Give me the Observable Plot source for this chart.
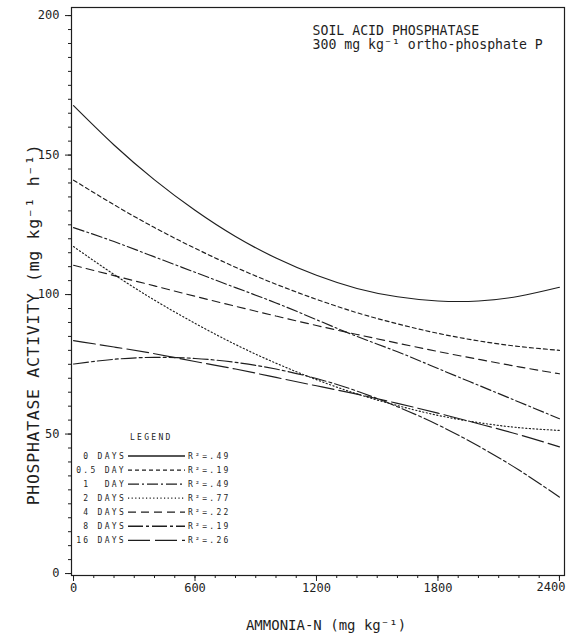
<!DOCTYPE html>
<html><head><meta charset="utf-8">
<script src="https://cdn.jsdelivr.net/npm/d3@7"></script>
<script src="https://cdn.jsdelivr.net/npm/@observablehq/plot@0.6"></script>
<style>
body{margin:0;background:#fff}
#chart{width:569px;height:641px}
text{white-space:pre}
</style>
</head><body><div id="chart"></div>
<script>
// ---- data ----
const ammonia = [0,200,400,600,800,1000,1200,1400,1600,1800,2000,2200,2400];
const day0  = [167.7,153.6,141.1,130.2,120.8,113.1,106.9,102.2,99.2,97.7,97.7,99.4,102.6];
const day05 = [141.0,132.2,124.0,116.6,109.8,103.7,98.3,93.5,89.5,86.1,83.4,81.4,80.0];
const day1  = [124.0,119.0,113.5,108.0,102.5,97.0,91.0,85.0,79.5,73.5,67.5,61.5,55.5];
const day2  = [117.2,107.2,98.0,89.7,82.1,75.4,69.5,64.4,60.2,56.7,54.1,52.3,51.3];
const day4  = [110.5,106.8,103.1,99.4,95.8,92.3,88.9,85.7,82.6,79.6,76.8,74.1,71.6];
const day8  = [75.1,76.8,77.5,77.1,75.7,73.3,69.9,65.4,59.8,53.3,45.7,37.1,27.4];
const day16 = [83.5,81.2,78.8,76.0,73.3,70.3,67.3,64.3,61.0,57.5,53.7,49.8,45.4];
const seriesNames = ["0 DAYS","0.5 DAY","1  DAY","2 DAYS","4 DAYS","8 DAYS","16 DAYS"];
const rSquared = [".49",".19",".49",".77",".22",".19",".26"];
const xTicks = [0,600,1200,1800,2400];
const yTicks = [0,50,100,150,200];
const titleLines = ["SOIL ACID PHOSPHATASE","300 mg kg\u207B\u00B9 ortho-phosphate P"];
const xTitle = "AMMONIA-N (mg kg\u207B\u00B9)";
const yTitle = "PHOSPHATASE ACTIVITY (mg kg\u207B\u00B9 h\u207B\u00B9)";

// ---- styles ----
const allSeries = [day0,day05,day1,day2,day4,day8,day16];
const dashes = ["none","4,3","11,3,2,3","1.2,2.4","8,5","15,3,3,3","22,5"];
const ink = "#1e1e1e";
const mono = "DejaVu Sans Mono";

const rows = seriesNames.flatMap((s,i) => ammonia.map((x,j) => ({series:s, x, y: allSeries[i][j]})));
const xMinor = d3.range(0, 2401, 100);
const yMinor = d3.range(0, 201, 5);

const chart = Plot.plot({
  width: 569, height: 641,
  marginLeft: 71, marginRight: 5, marginTop: 7, marginBottom: 66,
  x: {domain: [-10, 2425]},
  y: {domain: [-0.7, 202.9]},
  style: {fontFamily: mono, fontSize: "12px", color: ink, background: "#fff"},
  marks: [
    Plot.frame({stroke: ink, strokeWidth: 1.2}),
    Plot.axisY(yMinor, {tickSize: 3, tickFormat: () => "", label: null, stroke: ink}),
    Plot.axisY(yTicks, {tickSize: 6, tickPadding: 6, label: null, stroke: ink, fontSize: 12}),
    Plot.axisX(xMinor, {tickSize: 3, tickFormat: () => "", label: null, stroke: ink}),
    Plot.axisX(xTicks, {tickSize: 6, tickFormat: () => "", label: null, stroke: ink}),
    Plot.text(xTicks.slice(0,4), {x: d => d, frameAnchor: "bottom", dy: 16, text: d => String(d), fontSize: 12, fill: ink}),
    Plot.text(xTicks.slice(4), {x: d => d, frameAnchor: "bottom", dy: 15, text: d => String(d), fontSize: 12, textAnchor: "end", dx: 6, fill: ink}),
    ...seriesNames.map((s,i) => Plot.line(rows.filter(r => r.series === s), {
      x: "x", y: "y", curve: "natural", stroke: ink, strokeWidth: 1.15, strokeDasharray: dashes[i]
    })),
    Plot.text([titleLines[0]], {frameAnchor: "top-left", dx: 241, dy: 23.5, textAnchor: "start", lineAnchor: "middle", fontSize: 13.2, fill: ink}),
    Plot.text([titleLines[1]], {frameAnchor: "top-left", dx: 241, dy: 37, textAnchor: "start", lineAnchor: "middle", fontSize: 13.2, fill: ink}),
    Plot.text([xTitle], {frameAnchor: "bottom", dy: 50, dx: 8, lineAnchor: "middle", fontSize: 14, fill: ink}),
    Plot.text([yTitle], {frameAnchor: "left", textAnchor: "middle", rotate: -90, dx: -38, dy: 33, lineAnchor: "middle", fontSize: 16.5, fill: ink, className: "ytitle"})
  ]
});
document.getElementById("chart").appendChild(chart);

const svg = d3.select(chart);
svg.selectAll(".ytitle text").attr("letter-spacing", 0.7);

// ---- legend inside the plot area ----
const lg = svg.append("g").attr("font-family", mono).attr("font-size", 8).attr("letter-spacing", 2.3)
  .attr("fill", ink).attr("text-anchor", "start");
lg.append("text").attr("x", 130).attr("y", 437).attr("dy","0.35em").text("LEGEND");
seriesNames.forEach((s,i) => {
  const yy = 456 + 14.05*i;
  lg.append("text").attr("x", 126).attr("y", yy).attr("dy","0.35em").attr("text-anchor","end").text(s);
  lg.append("line").attr("x1",128).attr("x2",185).attr("y1",yy).attr("y2",yy)
    .attr("stroke", ink).attr("stroke-width", 1.3).attr("stroke-dasharray", dashes[i]);
  lg.append("text").attr("x", 188).attr("y", yy).attr("dy","0.35em").text("R\u00B2=" + rSquared[i]);
});
</script>
</body></html>
